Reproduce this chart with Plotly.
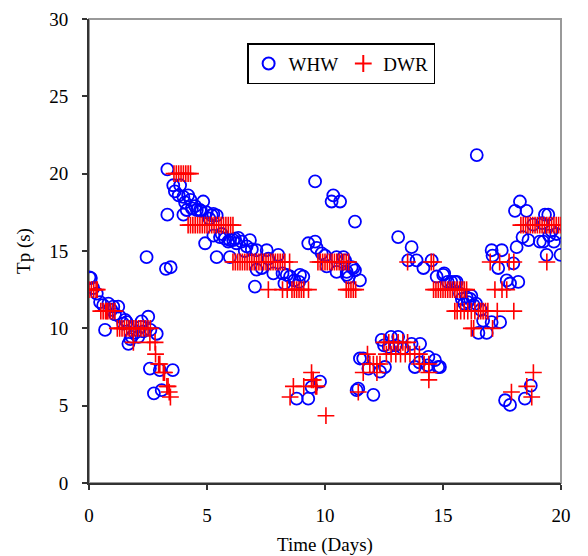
import plotly.graph_objects as go

# WHW (circles)
whw_t = [0.02, 0.08, 0.18, 0.33, 0.47, 0.60, 0.68, 0.82, 0.95, 1.03, 1.10, 1.24, 1.31, 1.45, 1.53, 1.60,
         1.67, 1.75, 1.81, 1.95, 2.09, 2.20, 2.23, 2.30, 2.44, 2.51, 2.60, 2.58, 2.75, 2.87, 3.00, 3.08,
         3.26, 3.32, 3.32, 3.46, 3.55, 3.57, 3.64, 3.80, 3.86, 4.00, 4.00, 4.07, 4.14, 4.20, 4.30, 4.36,
         4.50, 4.57, 4.70, 4.75, 4.84, 4.92, 4.98, 5.10, 5.20, 5.27, 5.41, 5.27, 5.41, 5.55, 5.62, 5.76,
         5.90, 5.97, 5.97, 6.11, 6.18, 6.25, 6.33, 6.46, 6.60, 6.68, 6.82, 6.90, 7.03, 7.10, 7.10, 7.32,
         7.53, 7.60, 7.81, 8.02, 8.20, 8.28, 8.38, 8.52, 8.70, 8.80, 8.90, 8.94, 9.08, 9.29, 9.29, 9.43,
         9.58, 9.58, 9.65, 9.79, 9.86, 10.00, 10.07, 10.28, 10.35, 10.49, 10.49, 10.64, 10.78, 10.85, 10.92, 10.92,
         11.00, 11.13, 11.20, 11.27, 11.27, 11.34, 11.41, 11.48, 11.48, 11.62, 11.84, 12.05, 12.33, 12.40, 12.50, 12.54,
         12.70, 12.80, 13.00, 13.10, 13.10, 13.30, 13.53, 13.67, 13.67, 13.81, 13.88, 14.00, 14.03, 14.17, 14.35, 14.38,
         14.52, 14.66, 14.73, 14.80, 14.87, 15.01, 15.05, 15.20, 15.35, 15.50, 15.58, 15.72, 15.80, 15.90, 16.00, 16.05,
         16.15, 16.20, 16.30, 16.43, 16.40, 16.50, 16.60, 16.70, 16.85, 17.06, 17.06, 17.10, 17.34, 17.42, 17.49, 17.63,
         17.70, 17.84, 17.84, 17.98, 18.05, 18.12, 18.19, 18.26, 18.37, 18.47, 18.54, 18.62, 18.72, 18.82, 19.10, 19.20,
         19.25, 19.32, 19.39, 19.46, 19.50, 19.60, 19.70, 19.80, 19.98]
whw_tp = [13.3, 13.25, 12.6, 12.25, 11.7, 11.5, 9.9, 11.6, 11.2, 11.4, 10.9, 11.4, 10.75, 10.3, 10.55, 10.4,
          9.0, 9.3, 9.45, 9.7, 9.45, 10.1, 10.45, 9.8, 14.6, 10.75, 9.9, 7.4, 5.8, 9.65, 7.3, 6.0,
          13.85, 20.28, 17.35, 13.95, 7.3, 19.25, 18.85, 18.6, 19.25, 18.5, 17.35, 18.15, 17.65, 18.6, 18.3, 17.75,
          17.9, 17.65, 17.65, 17.6, 18.2, 15.5, 17.5, 17.1, 17.3, 17.4, 17.3, 16.0, 14.6, 15.9, 16.1, 15.8,
          15.6, 15.7, 14.6, 15.7, 15.8, 15.5, 15.85, 15.6, 15.0, 15.3, 15.7, 15.1, 12.7, 13.8, 15.05, 13.9,
          15.05, 14.5, 13.55, 14.75, 13.55, 12.9, 13.45, 13.35, 13.1, 5.45, 13.0, 13.45, 13.35, 5.45, 15.5, 6.2,
          19.5, 15.6, 15.2, 6.55, 14.85, 14.7, 14.0, 18.2, 18.6, 14.6, 13.65, 18.2, 14.6, 14.4, 13.45, 13.65,
          13.3, 13.95, 13.9, 16.9, 13.75, 6.0, 6.1, 13.1, 8.05, 8.05, 7.4, 5.7, 7.2, 9.25, 8.9, 7.5,
          8.8, 9.45, 8.9, 9.45, 15.9, 8.7, 14.4, 15.25, 9.0, 7.5, 14.4, 7.8, 9.0, 13.9, 7.6, 8.15,
          14.4, 7.95, 13.35, 7.5, 7.5, 13.45, 13.55, 13.0, 13.0, 13.0, 13.0, 12.25, 11.9, 11.6, 12.0, 11.7,
          11.9, 12.1, 11.5, 21.2, 11.6, 9.7, 11.2, 10.5, 9.7, 15.05, 10.4, 14.7, 13.9, 10.4, 15.05, 5.35,
          13.1, 5.05, 12.9, 14.2, 17.6, 15.25, 13.0, 18.2, 15.9, 5.45, 17.6, 15.7, 6.3, 16.7, 15.6, 16.8,
          15.6, 17.35, 14.75, 17.35, 16.0, 16.3, 15.6, 16.1, 14.75]

# DWR (plus signs)
dwr_t = [0.00, 0.10, 0.20, 0.30, 0.35,
         0.50, 0.60, 0.70, 0.75, 0.80, 0.90, 1.00, 1.10,
         1.20, 1.30, 1.40, 1.50, 1.60, 1.70, 1.80, 1.90, 2.00, 2.10, 2.20, 2.30, 2.40, 2.50, 2.60,
         1.88, 2.58, 2.80, 2.82, 2.95, 3.00, 3.15, 3.20, 3.30, 3.35, 3.40, 3.45,
         3.60, 3.70, 3.80, 3.90, 4.00, 4.10, 4.20, 4.30,
         4.20, 4.30, 4.40, 4.50, 4.60, 4.70, 4.80, 4.90, 5.00, 5.10, 5.20, 5.30, 5.40, 5.50, 5.60, 5.70,
         5.80, 5.90, 6.00, 6.10,
         6.10, 6.20, 6.30, 6.40, 6.50, 6.60, 6.70, 6.80, 6.90, 7.00, 7.10, 7.20, 7.30, 7.40, 7.50, 7.60,
         7.70, 7.80, 7.90, 8.00, 8.10, 8.20, 8.30, 8.50,
         7.60, 8.20, 8.40, 8.60, 8.70, 8.80, 8.90, 9.00, 9.10, 9.30,
         8.52, 8.66, 9.10, 9.60, 9.65, 9.43, 9.43, 9.50, 10.04,
         9.70, 9.80, 9.90, 10.00, 10.10, 10.20, 10.30, 10.40, 10.50, 10.60, 10.70, 10.80, 10.90, 11.00,
         10.90, 11.00, 11.10, 11.20, 11.30,
         11.41, 11.62, 12.20, 11.80, 11.90, 12.05, 12.20, 12.33,
         12.50, 12.70, 12.90, 13.10, 13.30, 13.50,
         12.60, 12.80, 13.00, 13.20, 13.40, 13.60, 13.80, 14.00,
         14.00, 14.20, 14.40, 14.40, 14.40,
         13.50, 14.50, 14.60,
         14.60, 14.70, 14.80, 14.90, 15.00, 15.10, 15.20, 15.30, 15.40, 15.50, 15.60, 15.70, 15.80, 15.90, 16.00,
         15.50, 15.60, 15.75, 15.90, 16.05, 16.20, 16.35, 16.50, 16.60, 16.70, 16.80, 16.90, 17.30, 18.00,
         16.20, 16.30, 17.10,
         17.20, 17.50, 17.70,
         17.00, 17.40, 17.80, 18.00, 19.40,
         18.30, 18.40, 18.50, 18.60, 18.70, 18.80, 18.90, 19.00, 19.10, 19.20, 19.30, 19.40, 19.50, 19.60,
         19.70, 19.80, 19.90, 20.00,
         18.83, 18.55, 17.90, 18.76]
dwr_tp = [12.5, 12.5, 12.5, 12.5, 12.5,
          11.11, 11.11, 11.11, 11.11, 11.11, 11.11, 11.11, 11.11,
          10.0, 10.0, 10.0, 10.0, 10.0, 10.0, 10.0, 10.0, 10.0, 10.0, 10.0, 10.0, 10.0, 10.0, 10.0,
          9.09, 9.09, 9.09, 8.33, 7.69, 7.69, 7.14, 7.14, 6.25, 6.25, 5.88, 5.56,
          20.0, 20.0, 20.0, 20.0, 20.0, 20.0, 20.0, 20.0,
          16.67, 16.67, 16.67, 16.67, 16.67, 16.67, 16.67, 16.67, 16.67, 16.67, 16.67, 16.67, 16.67, 16.67, 16.67, 16.67,
          16.67, 16.67, 16.67, 16.67,
          14.29, 14.29, 14.29, 14.29, 14.29, 14.29, 14.29, 14.29, 14.29, 14.29, 14.29, 14.29, 14.29, 14.29, 14.29, 14.29,
          14.29, 14.29, 14.29, 14.29, 14.29, 14.29, 14.29, 14.29,
          12.5, 12.5, 12.5, 12.5, 12.5, 12.5, 12.5, 12.5, 12.5, 12.5,
          5.56, 6.25, 6.25, 6.25, 6.25, 7.14, 6.67, 6.67, 4.35,
          14.29, 14.29, 14.29, 14.29, 14.29, 14.29, 14.29, 14.29, 14.29, 14.29, 14.29, 14.29, 14.29, 14.29,
          12.5, 12.5, 12.5, 12.5, 12.5,
          5.88, 7.14, 7.14, 8.33, 7.69, 7.69, 7.69, 7.69,
          9.09, 9.09, 9.09, 9.09, 9.09, 9.09,
          8.33, 8.33, 8.33, 8.33, 8.33, 8.33, 8.33, 8.33,
          7.69, 7.69, 7.69, 7.14, 6.67,
          14.29, 14.29, 14.29,
          12.5, 12.5, 12.5, 12.5, 12.5, 12.5, 12.5, 12.5, 12.5, 12.5, 12.5, 12.5, 12.5, 12.5, 12.5,
          11.11, 11.11, 11.11, 11.11, 11.11, 11.11, 11.11, 11.11, 11.11, 11.11, 11.11, 11.11, 11.11, 11.11,
          10.0, 10.0, 10.0,
          12.5, 12.5, 12.5,
          14.29, 14.29, 14.29, 14.29, 14.29,
          16.67, 16.67, 16.67, 16.67, 16.67, 16.67, 16.67, 16.67, 16.67, 16.67, 16.67, 16.67, 16.67, 16.67,
          16.67, 16.67, 16.67, 16.67,
          7.14, 6.25, 5.88, 5.56]

FONT = "Liberation Serif, Times New Roman, serif"

fig = go.Figure()
fig.add_trace(go.Scatter(
    x=whw_t, y=whw_tp, mode="markers", name="WHW",
    marker=dict(symbol="circle-open", size=12, color="#0000FF",
                line=dict(width=1.8, color="#0000FF")),
))
fig.add_trace(go.Scatter(
    x=dwr_t, y=dwr_tp, mode="markers", name="DWR",
    marker=dict(symbol="cross-thin-open", size=12, color="#FF0000",
                line=dict(width=1.6, color="#FF0000")),
))

# gray plot-area frame (top and right)
fig.add_shape(type="rect", xref="paper", yref="paper", x0=0, y0=0, x1=1, y1=1,
              line=dict(color="#999999", width=2), layer="below")

fig.update_layout(
    width=588, height=556,
    margin=dict(l=89, r=27, t=19, b=73, autoexpand=False),
    paper_bgcolor="white", plot_bgcolor="white",
    font=dict(family=FONT, size=19, color="black"),
    showlegend=True,
    legend=dict(
        orientation="h", x=0.335, y=0.948, xanchor="left", yanchor="top",
        bgcolor="white", bordercolor="black", borderwidth=1.5,
        font=dict(family=FONT, size=19, color="black"),
        itemsizing="constant", itemwidth=30,
    ),
)
fig.update_xaxes(
    range=[0, 20], tick0=0, dtick=5, showgrid=False, zeroline=False,
    showline=True, linecolor="#333333", linewidth=2,
    ticks="outside", ticklen=5, tickwidth=1.5, tickcolor="#333333",
    ticklabelstandoff=9, automargin=False,
    title=dict(text="Time (Days)", standoff=15, font=dict(family=FONT, size=19)),
    tickfont=dict(family=FONT, size=19),
)
fig.update_yaxes(
    range=[0, 30], tick0=0, dtick=5, showgrid=False, zeroline=False,
    showline=True, linecolor="#333333", linewidth=2,
    ticks="outside", ticklen=5, tickwidth=1.5, tickcolor="#333333",
    ticklabelstandoff=10, automargin=False,
    title=dict(text="Tp (s)", standoff=14, font=dict(family=FONT, size=19)),
    tickfont=dict(family=FONT, size=19),
)

fig.write_html("out.html")
